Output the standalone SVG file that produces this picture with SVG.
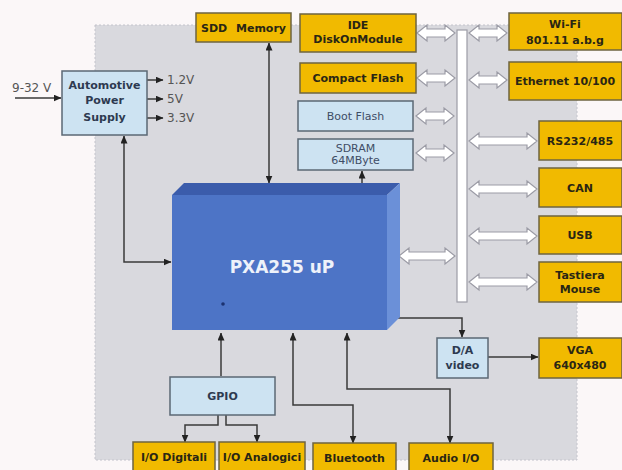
<svg xmlns="http://www.w3.org/2000/svg" width="622" height="470" viewBox="0 0 622 470">
<style>
.bg{fill:#fbf7f8}
.panel{fill:#d9d9de;stroke:#c4c4cc;stroke-width:1;stroke-dasharray:2 2}
.y{fill:#f1ba00;stroke:#6e6440;stroke-width:1.5}
.b{fill:#cde3f2;stroke:#5b6874;stroke-width:1.5}
.ty{font-family:"DejaVu Sans",sans-serif;font-weight:bold;font-size:11px;fill:#2a2614;text-anchor:middle}
.tb{font-family:"DejaVu Sans",sans-serif;font-size:11px;fill:#3f4d66;text-anchor:middle}
.tbb{font-family:"DejaVu Sans",sans-serif;font-weight:bold;font-size:11px;fill:#2d3a50;text-anchor:middle}
.tv{font-family:"DejaVu Sans",sans-serif;font-size:12px;fill:#555}
.c{fill:none;stroke:#3a3a3a;stroke-width:1.5}
.h{fill:#ffffff;stroke:#9c9ca6;stroke-width:1.2}
</style>
<defs>
<marker id="a" viewBox="0 0 8 7" refX="7.5" refY="3.5" markerWidth="8" markerHeight="7" markerUnits="userSpaceOnUse" orient="auto-start-reverse">
<path d="M0,0 L8,3.5 L0,7 z" fill="#222"/>
</marker>
<path id="ds" d="M0,0 L10,-8 L10,-4 L28,-4 L28,-8 L38,0 L28,8 L28,4 L10,4 L10,8 z"/>
<path id="dl" d="M0,0 L10,-8 L10,-4 L58,-4 L58,-8 L68,0 L58,8 L58,4 L10,4 L10,8 z"/>
<path id="dc" d="M0,0 L10,-8 L10,-4 L46,-4 L46,-8 L56,0 L46,8 L46,4 L10,4 L10,8 z"/>
</defs>
<rect class="bg" x="0" y="0" width="622" height="470"/>
<rect class="panel" x="95" y="25" width="482" height="435"/>

<g id="bus">
<rect class="h" x="457" y="30" width="10" height="272"/>
</g>

<g id="connectors">
<use href="#ds" class="h" x="417" y="33"/>
<use href="#ds" class="h" x="469" y="33"/>
<use href="#ds" class="h" x="417" y="78"/>
<use href="#ds" class="h" x="469" y="80"/>
<use href="#ds" class="h" x="416" y="116"/>
<use href="#ds" class="h" x="416" y="153"/>
<use href="#dl" class="h" x="469" y="141"/>
<use href="#dl" class="h" x="469" y="189"/>
<use href="#dl" class="h" x="469" y="236"/>
<use href="#dl" class="h" x="469" y="282"/>
<use href="#dc" class="h" x="399" y="256"/>
<path class="c" d="M15,98 H61" marker-end="url(#a)"/>
<path class="c" d="M147,80 H163" marker-end="url(#a)"/>
<path class="c" d="M147,99 H163" marker-end="url(#a)"/>
<path class="c" d="M147,118 H163" marker-end="url(#a)"/>
<path class="c" d="M124,136 V262 H171" marker-start="url(#a)" marker-end="url(#a)"/>
<path class="c" d="M269,43 V183" marker-start="url(#a)" marker-end="url(#a)"/>
<path class="c" d="M362,171 V191" marker-start="url(#a)" marker-end="url(#a)"/>
<path class="c" d="M221,376 V333" marker-end="url(#a)"/>
<path class="c" d="M353,443 V405 H293 V333" marker-start="url(#a)" marker-end="url(#a)"/>
<path class="c" d="M450,443 V389 H347 V333" marker-start="url(#a)" marker-end="url(#a)"/>
<path class="c" d="M393,318 H462 V337" marker-end="url(#a)"/>
<path class="c" d="M488,357 H538" marker-end="url(#a)"/>
<path class="c" d="M218,415 V425 H185 V442" marker-end="url(#a)"/>
<path class="c" d="M226,415 V425 H257 V442" marker-end="url(#a)"/>
</g>

<g id="power">
<rect class="b" x="62" y="71" width="85" height="64"/>
<text class="tbb" x="104.5" y="89">Automotive</text>
<text class="tbb" x="104.5" y="104">Power</text>
<text class="tbb" x="104.5" y="121">Supply</text>
</g>
<text class="tv" x="12" y="92">9-32 V</text>
<text class="tv" x="167" y="84">1.2V</text>
<text class="tv" x="167" y="103">5V</text>
<text class="tv" x="167" y="122">3.3V</text>

<g id="sdd">
<rect class="y" x="196" y="13" width="95" height="29"/>
<text class="ty" x="243.5" y="32" word-spacing="5">SDD Memory</text>
</g>
<g id="ide">
<rect class="y" x="300" y="14" width="116" height="38"/>
<text class="ty" x="358" y="29">IDE</text>
<text class="ty" x="358" y="43">DiskOnModule</text>
</g>
<g id="cf">
<rect class="y" x="300" y="63" width="116" height="30"/>
<text class="ty" x="358" y="82">Compact Flash</text>
</g>
<g id="bootflash">
<rect class="b" x="298" y="101" width="115" height="30"/>
<text class="tb" x="355.5" y="120">Boot Flash</text>
</g>
<g id="sdram">
<rect class="b" x="298" y="139" width="115" height="31"/>
<text class="tb" x="355.5" y="152">SDRAM</text>
<text class="tb" x="355.5" y="164">64MByte</text>
</g>
<g id="wifi">
<rect class="y" x="509" y="13" width="113" height="37"/>
<text class="ty" x="565" y="28">Wi-Fi</text>
<text class="ty" x="565" y="44">801.11 a.b.g</text>
</g>
<g id="ethernet">
<rect class="y" x="509" y="62" width="113" height="38"/>
<text class="ty" x="565" y="85">Ethernet 10/100</text>
</g>
<g id="rs232">
<rect class="y" x="539" y="121" width="83" height="39"/>
<text class="ty" x="580" y="145">RS232/485</text>
</g>
<g id="can">
<rect class="y" x="539" y="168" width="83" height="39"/>
<text class="ty" x="580" y="192">CAN</text>
</g>
<g id="usb">
<rect class="y" x="539" y="216" width="83" height="38"/>
<text class="ty" x="580" y="239">USB</text>
</g>
<g id="tastiera">
<rect class="y" x="539" y="262" width="83" height="40"/>
<text class="ty" x="580" y="279">Tastiera</text>
<text class="ty" x="580" y="293">Mouse</text>
</g>
<g id="cpu">
<polygon points="172,195 184,183 400,183 387,195" fill="#3b5cab"/>
<polygon points="387,195 400,183 400,317 387,330" fill="#6b90d8"/>
<rect x="172" y="195" width="215" height="135" fill="#4d74c6"/>
<text x="282" y="273" font-family="DejaVu Sans,sans-serif" font-weight="bold" font-size="17" fill="#eef2fa" text-anchor="middle">PXA255 uP</text>
<circle cx="223" cy="304" r="1.8" fill="#1c3270"/>
</g>
<g id="da">
<rect class="b" x="437" y="338" width="51" height="40"/>
<text class="tbb" x="462.5" y="354">D/A</text>
<text class="tbb" x="462.5" y="369">video</text>
</g>
<g id="vga">
<rect class="y" x="539" y="338" width="83" height="40"/>
<text class="ty" x="580" y="354">VGA</text>
<text class="ty" x="580" y="369">640x480</text>
</g>
<g id="gpio">
<rect class="b" x="170" y="377" width="105" height="38"/>
<text class="tbb" x="222.5" y="400">GPIO</text>
</g>
<g id="iodig">
<rect class="y" x="133" y="442" width="82" height="32"/>
<text class="ty" x="174" y="461">I/O Digitali</text>
</g>
<g id="ioan">
<rect class="y" x="219" y="442" width="86" height="32"/>
<text class="ty" x="262" y="461">I/O Analogici</text>
</g>
<g id="bluetooth">
<rect class="y" x="313" y="443" width="83" height="31"/>
<text class="ty" x="354.5" y="462">Bluetooth</text>
</g>
<g id="audio">
<rect class="y" x="409" y="443" width="84" height="31"/>
<text class="ty" x="451" y="462">Audio I/O</text>
</g>
</svg>
